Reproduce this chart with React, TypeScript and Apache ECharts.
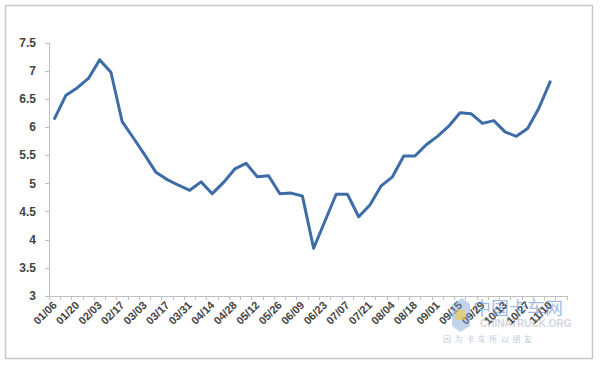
import React, { useEffect, useRef } from "react";
import * as echarts from "echarts";

const categories = [
  "01/06","01/13","01/20","01/27","02/03","02/10","02/17","02/24","03/03","03/10",
  "03/17","03/24","03/31","04/07","04/14","04/21","04/28","05/05","05/12","05/19",
  "05/26","06/02","06/09","06/16","06/23","06/30","07/07","07/14","07/21","07/28",
  "08/04","08/11","08/18","08/25","09/01","09/08","09/15","09/22","09/29","10/06",
  "10/13","10/20","10/27","11/03","11/10","11/17"
];

const values: (number | null)[] = [
  6.16, 6.57, 6.70, 6.87, 7.20, 6.98, 6.10, 5.81, 5.51, 5.20,
  5.07, 4.97, 4.88, 5.03, 4.82, 5.02, 5.26, 5.36, 5.12, 5.14,
  4.82, 4.83, 4.78, 3.85, 4.33, 4.81, 4.81, 4.41, 4.62, 4.96,
  5.12, 5.49, 5.49, 5.69, 5.84, 6.02, 6.26, 6.24, 6.07, 6.12,
  5.92, 5.84, 5.98, 6.34, 6.81, null
];

const yMin = 3;
const yMax = 7.5;
const yStep = 0.5;

export default function App() {
  const ref = useRef<HTMLDivElement>(null);
  useEffect(() => {
    if (!ref.current) return;
    const chart = echarts.init(ref.current, undefined, { renderer: "svg" });
    chart.setOption({
      animation: false,
      backgroundColor: "#ffffff",
      grid: { left: 49, right: 33, top: 43, bottom: 72, containLabel: false },
      xAxis: {
        type: "category",
        data: categories,
        boundaryGap: true,
        axisLine: { show: true, lineStyle: { color: "#bfbfbf", width: 1 } },
        axisTick: { show: true, interval: 0, length: 4, lineStyle: { color: "#bfbfbf" } },
        axisLabel: {
          interval: 1,
          rotate: 45,
          margin: 7,
          fontSize: 11,
          fontFamily: "Liberation Sans",
          fontWeight: "bold",
          color: "#444444",
        },
        splitLine: { show: false },
      },
      yAxis: {
        type: "value",
        min: yMin,
        max: yMax,
        interval: yStep,
        axisLine: { show: true, lineStyle: { color: "#bfbfbf", width: 1 } },
        axisTick: { show: true, length: 4, lineStyle: { color: "#bfbfbf" } },
        axisLabel: {
          margin: 13,
          fontSize: 12,
          fontFamily: "Liberation Sans",
          fontWeight: "bold",
          color: "#444444",
        },
        splitLine: { show: false },
      },
      series: [
        {
          type: "line",
          data: values,
          showSymbol: false,
          symbol: "none",
          connectNulls: false,
          lineStyle: { color: "#3d6ca6", width: 3, join: "round", cap: "round" },
        },
      ],
      graphic: [
        {
          type: "rect",
          shape: { x: 5.5, y: 5.5, width: 587, height: 353 },
          style: { fill: "none", stroke: "#c8c8c8", lineWidth: 1.5 },
          silent: true,
          z: -1,
        },
        {
          type: "polygon",
          shape: { points: [[452, 304], [462, 298], [470, 304], [470, 326], [460, 332], [452, 326]] },
          style: { fill: "rgba(120,160,210,0.45)" },
          silent: true,
          z: 10,
        },
        {
          type: "rect",
          shape: { x: 455, y: 310, width: 10, height: 10 },
          style: { fill: "rgba(240,200,60,0.6)" },
          silent: true,
          z: 11,
        },
        {
          type: "text",
          x: 473,
          y: 298,
          style: {
            text: "中国卡车网",
            font: "18px 'Noto Sans CJK SC'",
            fill: "rgba(90,140,210,0.6)",
          },
          silent: true,
          z: 10,
        },
        {
          type: "text",
          x: 480,
          y: 318,
          style: {
            text: "CHINATRUCK.ORG",
            font: "bold 10px 'Liberation Sans'",
            fill: "rgba(150,160,175,0.45)",
          },
          silent: true,
          z: 10,
        },
        {
          type: "text",
          x: 443,
          y: 334,
          style: {
            text: "因  为  卡  车  所  以  朋  友",
            font: "8px 'Noto Sans CJK SC'",
            fill: "rgba(120,150,190,0.55)",
          },
          silent: true,
          z: 10,
        },
      ],
    });
    return () => chart.dispose();
  }, []);
  return (
    <div
      ref={ref}
      style={{ position: "fixed", left: 0, top: 0, width: 600, height: 368 }}
    />
  );
}
